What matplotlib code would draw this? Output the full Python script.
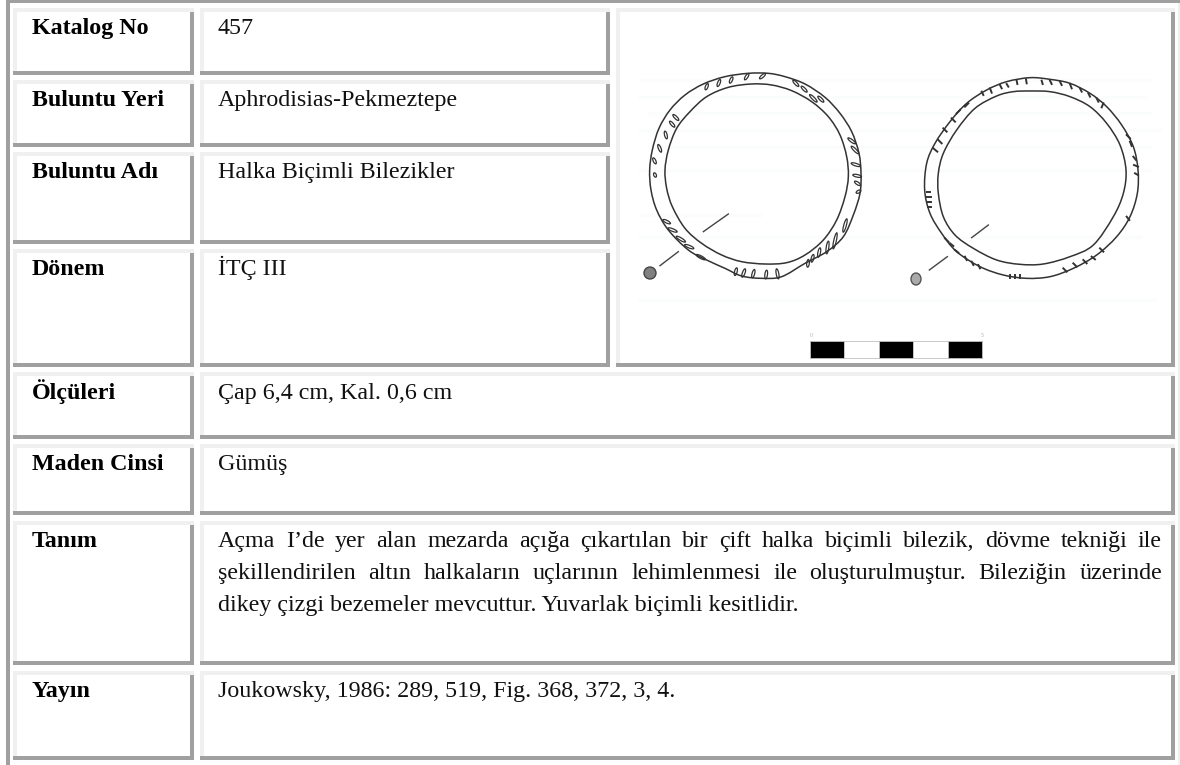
# Catalogue card: table cells with bevelled borders, plus the bracelet drawing
import math
import matplotlib
matplotlib.use('Agg')
import matplotlib.pyplot as plt
from matplotlib.patches import Rectangle, Ellipse, PathPatch
from matplotlib.path import Path

plt.rcParams['font.family'] = ['Liberation Serif', 'DejaVu Serif']

# Text of the card
labels = ['Katalog No', 'Buluntu Yeri', 'Buluntu Adı', 'Dönem', 'Ölçüleri',
          'Maden Cinsi', 'Tanım', 'Yayın']
values = ['457', 'Aphrodisias-Pekmeztepe', 'Halka Biçimli Bilezikler', 'İTÇ III',
          'Çap 6,4 cm, Kal. 0,6 cm', 'Gümüş', None,
          'Joukowsky, 1986: 289, 519, Fig. 368, 372, 3, 4.']
description = ['Açma I’de yer alan mezarda açığa çıkartılan bir çift halka biçimli bilezik, dövme tekniği ile',
               'şekillendirilen altın halkaların uçlarının lehimlenmesi ile oluşturulmuştur. Bileziğin üzerinde',
               'dikey çizgi bezemeler mevcuttur. Yuvarlak biçimli kesitlidir.']

# Row layout in pixels: top, bottom, text baseline
row_tops = [8, 80, 152, 249, 372, 444, 521, 671]
row_bottoms = [75, 147, 244, 367, 439, 515, 665, 760]
baselines = [34, 106, 178, 275, 399, 470, 547, 697]
line_baselines = [547, 579, 611]

# Drawing outlines (3x crop coordinates)
left_outer = [(340,40),(400,40),(450,50),(510,72),(570,112),(615,160),(650,215),(672,280),(678,340),(675,400),
              (655,465),(625,530),(575,575),(510,610),(440,650),(380,655),(320,648),(270,625),(215,600),(160,570),
              (100,510),(65,450),(48,390),(44,330),(52,270),(72,205),(105,150),(150,105),(205,72),(270,50)]
left_inner = [(350,72),(410,75),(470,92),(530,125),(580,170),(615,225),(635,290),(640,350),(630,410),(605,480),
              (565,540),(510,585),(455,608),(390,612),(320,605),(260,585),(200,550),(150,505),(112,440),(95,385),
              (90,330),(100,270),(125,205),(165,155),(215,110),(280,82)]
left_marks = [(212,88,218,72),(248,78,255,60),(285,68,292,52),(330,58,340,42),(375,55,390,42),
              (475,62,490,78),(500,80,515,95),(525,105,545,125),(550,110,565,125),
              (640,235,660,250),(650,260,670,280),(650,310,675,318),(655,345,678,350),(660,365,675,375),(665,398,676,392),
              (635,478,625,515),(605,520,595,565),(580,545,575,580),(555,565,550,590),(535,585,530,605),(520,600,518,620),
              (305,625,300,645),(330,628,322,650),(358,630,352,652),(395,632,392,655),(425,628,430,655),
              (85,480,105,490),(100,505,125,515),(125,530,150,545),(150,555,175,565),(185,585,210,598),
              (115,165,130,180),(105,185,118,200),(90,215,95,235),(70,255,78,275),(55,295,62,310),(58,340,62,350)]
left_leaders = [(205,515,280,462),(75,617,130,575)]

right_outer = [(390,53),(450,58),(510,70),(570,100),(620,140),(665,195),(700,260),(714,330),(712,400),(690,470),
               (650,530),(590,585),(520,625),(450,650),(380,655),(310,645),(240,620),(170,575),(125,520),(90,460),
               (74,390),(80,310),(105,250),(150,185),(200,130),(260,90),(320,65)]
right_inner = [(390,93),(450,95),(510,110),(570,140),(620,190),(660,255),(678,330),(670,400),(640,470),(580,555),
               (510,590),(430,612),(360,613),(290,600),(220,565),(165,525),(130,470),(115,400),(115,340),(130,280),
               (170,210),(225,145),(290,108),(340,95)]
right_marks = [(245,95,250,105),(270,85,275,98),(300,75,305,85),(320,72,325,80),(350,62,352,72),(378,58,380,70),
               (425,62,428,72),(450,62,455,72),(480,65,485,75),(510,72,515,85),(540,85,545,95),(565,100,570,110),
               (590,115,595,125),(610,130,605,142),(205,130,195,140),(180,150,170,160),(155,175,165,185),
               (130,205,140,215),(115,240,125,250),(100,265,112,275),(680,225,690,235),(690,245,695,258),
               (700,290,708,300),(702,315,714,320),(705,340,714,345),(680,470,688,480),(600,565,610,575),
               (575,590,585,598),(550,600,560,610),(520,610,530,620),(490,625,500,635),(330,645,330,655),
               (345,645,345,655),(360,645,360,655),(135,535,145,545),(150,550,160,558),(165,570,175,578),
               (195,590,200,600),(215,605,220,615),(235,615,240,625),(80,395,90,395),(80,410,92,410),
               (82,425,92,425),(85,440,92,440)]
right_leaders = [(215,533,265,495),(88,630,142,590)]

# Faint show-through streaks behind the drawing: y, x start, x end, in pixels
streaks = [(80,640,1150),(97,640,1145),(113,650,1150),(130,640,1160),(147,650,1150),(170,640,1150),
           (215,640,760),(237,640,1140),(300,640,1155)]

DARK = '#a0a0a0'
LIGHT = '#f0f0f0'
INK = '#333333'
FONT = 17.25

fig = plt.figure(figsize=(11.8, 7.65), dpi=100)
ax = fig.add_axes([0, 0, 1, 1])
ax.set_xlim(0, 1180)
ax.set_ylim(765, 0)
ax.axis('off')


def rect(x0, y0, x1, y1, color, z=1):
    ax.add_patch(Rectangle((x0, y0), x1 - x0, y1 - y0, facecolor=color, edgecolor='none', zorder=z))


def cell(x0, y0, x1, y1):
    # inset border: light on top and left, dark on bottom and right
    rect(x0, y0, x1, y0 + 4, LIGHT)
    rect(x0, y0, x0 + 4, y1, LIGHT)
    rect(x1 - 4, y0 + 4, x1, y1, DARK)
    rect(x0, y1 - 4, x1, y1, DARK)


def crop(x, y, x0, y0):
    return x0 + x / 3, y0 + y / 3


def outline_patch(outline, x0, y0):
    # closed smooth curve through the outline points
    pts = [crop(x, y, x0, y0) for x, y in outline]
    n = len(pts)
    verts = [pts[0]]
    codes = [Path.MOVETO]
    for i in range(n):
        p0, p1, p2, p3 = pts[i - 1], pts[i], pts[(i + 1) % n], pts[(i + 2) % n]
        verts.append((p1[0] + (p2[0] - p0[0]) / 6, p1[1] + (p2[1] - p0[1]) / 6))
        verts.append((p2[0] - (p3[0] - p1[0]) / 6, p2[1] - (p3[1] - p1[1]) / 6))
        verts.append(p2)
        codes += [Path.CURVE4] * 3
    ax.add_patch(PathPatch(Path(verts, codes), facecolor='none', edgecolor=INK, lw=1.1, zorder=3))


def ring(outer, inner, leaders, x0, y0):
    outline_patch(outer, x0, y0)
    outline_patch(inner, x0, y0)
    for xa, ya, xb, yb in leaders:
        a, b = crop(xa, ya, x0, y0), crop(xb, yb, x0, y0)
        ax.plot([a[0], b[0]], [a[1], b[1]], color='#444444', lw=1.0, zorder=3)


# Outer table frame
rect(6, 0, 1180, 3, DARK)
rect(6, 0, 10, 765, DARK)
rect(1178, 3, 1180, 765, LIGHT)

# Table cells
for i in range(len(labels)):
    cell(13, row_tops[i], 194, row_bottoms[i])
    if i < 4:
        cell(200, row_tops[i], 610, row_bottoms[i])
    else:
        cell(200, row_tops[i], 1175, row_bottoms[i])
cell(616, 8, 1175, 367)

# Text
for i in range(len(labels)):
    ax.text(32, baselines[i], labels[i], fontsize=FONT, fontweight='bold', color='black', va='baseline', zorder=4)
    if values[i] is not None:
        ax.text(218, baselines[i], values[i], fontsize=FONT, color='#111111', va='baseline', zorder=4)

# Justified description: the first two lines stretch across the cell
renderer = fig.canvas.get_renderer()
for n, line in enumerate(description):
    words = line.split(' ')
    if n == len(description) - 1:
        ax.text(218, line_baselines[n], line, fontsize=FONT, color='#111111', va='baseline', zorder=4)
        continue
    items = [ax.text(0, line_baselines[n], w, fontsize=FONT, color='#111111', va='baseline', zorder=4) for w in words]
    widths = [t.get_window_extent(renderer).width for t in items]
    gap = (1162 - 218 - sum(widths)) / (len(words) - 1)
    x = 218
    for t, w in zip(items, widths):
        t.set_x(x)
        x += w + gap

# Bracelet drawing
for y, xa, xb in streaks:
    ax.plot([xa, xb], [y, y], color='#eef0f4', lw=2.5, alpha=0.2, zorder=2)
ring(left_outer, left_inner, left_leaders, 635, 60)
ring(right_outer, right_inner, right_leaders, 900, 60)

# Left bracelet decoration is small open loops, right one is short ticks
for xa, ya, xb, yb in left_marks:
    a, b = crop(xa, ya, 635, 60), crop(xb, yb, 635, 60)
    ax.add_patch(Ellipse(((a[0] + b[0]) / 2, (a[1] + b[1]) / 2), math.hypot(b[0] - a[0], b[1] - a[1]) + 1, 2.6,
                         angle=math.degrees(math.atan2(b[1] - a[1], b[0] - a[0])),
                         facecolor='none', edgecolor=INK, lw=0.9, zorder=3))
for xa, ya, xb, yb in right_marks:
    a, b = crop(xa, ya, 900, 60), crop(xb, yb, 900, 60)
    ax.plot([a[0], b[0]], [a[1], b[1]], color=INK, lw=1.4, zorder=3)

ax.add_patch(Ellipse((650, 273), 12, 12, facecolor='#808080', edgecolor='#444444', lw=1, zorder=3))
ax.add_patch(Ellipse((916, 279), 10, 12, facecolor='#aaaaaa', edgecolor='#555555', lw=1, zorder=3))

# Scale bar
bar_colors = ['black', 'white', 'black', 'white', 'black']
bar_left = 809.5
bar_step = 34.5
for i, c in enumerate(bar_colors):
    ax.add_patch(Rectangle((bar_left + i * bar_step, 341), bar_step, 17, facecolor=c, edgecolor='#c0c0c0', lw=0.6, zorder=3))
ax.text(811, 335, '0', fontsize=4, color='#aaaaaa', ha='center', va='center', zorder=3)
ax.text(982, 335, '5', fontsize=4, color='#aaaaaa', ha='center', va='center', zorder=3)

plt.savefig('out.png', dpi=100)
